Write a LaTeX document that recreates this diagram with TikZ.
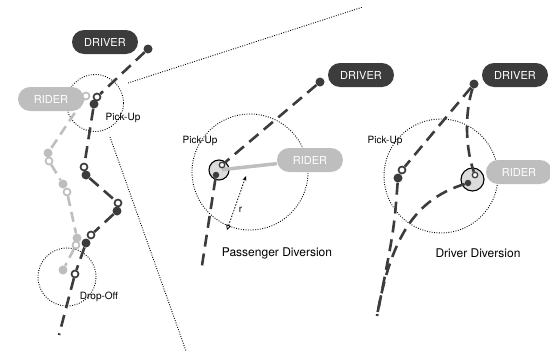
\documentclass[tikz,border=0pt]{standalone}
\usepackage{fontspec}
\setmainfont{TeX Gyre Heros}
\usetikzlibrary{arrows.meta}
\definecolor{darkgrey}{HTML}{3C3C3C}
\definecolor{lightgrey}{HTML}{BEBEBE}
\definecolor{spotgrey}{HTML}{DCDCDC}
\tikzset{
	driverbox/.style={fill=darkgrey, text=white, rounded corners=12pt, minimum width=66pt, minimum height=24pt, inner sep=0pt, font=\fontsize{11}{12}\selectfont},
	riderbox/.style={driverbox, fill=lightgrey},
	route/.style={draw=darkgrey, line width=2.6pt, dash pattern=on 12pt off 7pt},
	riderroute/.style={draw=lightgrey, line width=2.6pt, dash pattern=on 10pt off 6pt},
	riderlink/.style={draw=lightgrey, line width=3.5pt},
	stopin/.style={circle, draw=darkgrey, fill=white, line width=1.7pt, inner sep=0pt, minimum size=7pt},
	stopout/.style={circle, fill=darkgrey, inner sep=0pt, minimum size=9pt},
	riderin/.style={stopin, draw=lightgrey},
	riderout/.style={stopout, fill=lightgrey},
	smallin/.style={stopin, line width=1.3pt, minimum size=5.5pt},
	smallout/.style={stopout, minimum size=6.5pt},
	zone/.style={circle, draw, line width=0.9pt, dash pattern=on 0.9pt off 1.5pt, inner sep=0pt},
	pickspot/.style={circle, draw=black, fill=spotgrey, line width=1.1pt, inner sep=0pt},
	callout/.style={line width=0.9pt, dash pattern=on 0.9pt off 1.5pt},
	radius/.style={line width=0.8pt, dash pattern=on 1.5pt off 1.5pt, {Triangle[open, length=5pt, width=5pt]}-{Stealth[length=5pt, width=4pt]}},
	smalltext/.style={font=\fontsize{10}{12}\selectfont},
	captiontext/.style={font=\fontsize{12}{14}\selectfont}
}
\begin{document}
\begin{tikzpicture}[x=1pt, y=-1pt]
	\useasboundingbox (0,0) rectangle (550,351);
	% left: whole trip
	\node[zone, minimum size=57pt] (zoneA) at (95,103) {};
	\node[zone, minimum size=58pt] (dropA) at (67,277) {};
	\node[smalltext] (pickA) at (123,118) {Pick-Up};
	\node[smalltext] (dropTextA) at (99,297) {Drop-Off};
	\coordinate (cA1) at (128,83);
	\coordinate (cA2) at (363,7);
	\coordinate (cA3) at (110,137);
	\coordinate (cA4) at (186,351);
	\draw[callout] (cA1) -- (cA2);
	\draw[callout] (cA3) -- (cA4);
	\node[driverbox] (driverA) at (105,42) {DRIVER};
	\node[riderbox] (riderA) at (51,99) {RIDER};
	\node[riderin] (rA0) at (86,96) {};
	\node[riderout] (rA1) at (48,153) {};
	\node[riderin] (rA2) at (49,161) {};
	\node[riderout] (rA3) at (63,184) {};
	\node[riderin] (rA4) at (67,192) {};
	\node[riderout] (rA5) at (77,238) {};
	\node[riderin] (rA6) at (76,245) {};
	\node[riderout] (rA7) at (63,270) {};
	\draw[riderroute] (rA0) -- (rA1) (rA2) -- (rA3) (rA4) -- (rA5) (rA6) -- (rA7);
	\node[stopout] (dA0) at (148,49) {};
	\node[stopin] (dA1) at (97,97) {};
	\node[stopout] (dA2) at (94,104) {};
	\node[stopin] (dA3) at (84,167) {};
	\node[stopout] (dA4) at (86,175) {};
	\node[stopin] (dA5) at (118,203) {};
	\node[stopout] (dA6) at (117,211) {};
	\node[stopin] (dA7) at (91,235) {};
	\node[stopout] (dA8) at (86,243) {};
	\node[stopin] (dA9) at (75,274) {};
	\coordinate (dA10) at (59,335);
	\draw[route] (dA0) -- (dA1) (dA2) -- (dA3) (dA4) -- (dA5) (dA6) -- (dA7) (dA8) -- (dA9) -- (dA10);
	% middle: passenger diversion
	\node[zone, minimum size=116pt] (zoneB) at (250,172) {};
	\node[smalltext] (pickB) at (200,141) {Pick-Up};
	\node[driverbox] (driverB) at (361,75) {DRIVER};
	\node[riderbox] (riderB) at (310,160) {RIDER};
	\node[pickspot, minimum size=20pt] (spotB) at (219,170) {};
	\draw[riderlink, shorten >=3pt] (riderB) -- (spotB.center);
	\node[stopout] (dB0) at (320,82) {};
	\node[smallin] (dB1) at (222,165) {};
	\node[smallout] (dB2) at (216,175) {};
	\coordinate (dB3) at (201,272);
	\draw[route] (dB0) -- (dB1) (dB2) -- (dB3);
	\coordinate (rTail) at (227,230);
	\coordinate (rHead) at (246,176);
	\draw[radius] (rTail) -- node[pos=0.38, right=1pt, smalltext] {r} (rHead);
	\node[captiontext] (captionB) at (277,253) {Passenger Diversion};
	% right: driver diversion
	\node[zone, minimum size=114pt] (zoneC) at (441,176) {};
	\node[smalltext] (pickC) at (385,141) {Pick-Up};
	\node[driverbox] (driverC) at (515,75) {DRIVER};
	\node[riderbox] (riderC) at (519,172) {RIDER};
	\node[pickspot, minimum size=23pt] (spotC) at (472.5,179.5) {};
	\node[stopout] (dC0) at (474,84) {};
	\node[stopin] (dC1) at (402,170) {};
	\node[stopout] (dC2) at (398,178) {};
	\coordinate (dC3) at (377,316);
	\node[smallin] (dC4) at (475,175) {};
	\node[smallout] (dC5) at (468,183) {};
	\draw[route] (dC0) -- (dC1) (dC2) .. controls (394,230) .. (dC3);
	\draw[route] (dC0) .. controls (464,115) and (466,150) .. (dC4);
	\draw[route] (dC5) .. controls (420,198) and (392,230) .. (dC3);
	\node[captiontext] (captionC) at (478,253) {Driver Diversion};
\end{tikzpicture}
\end{document}
